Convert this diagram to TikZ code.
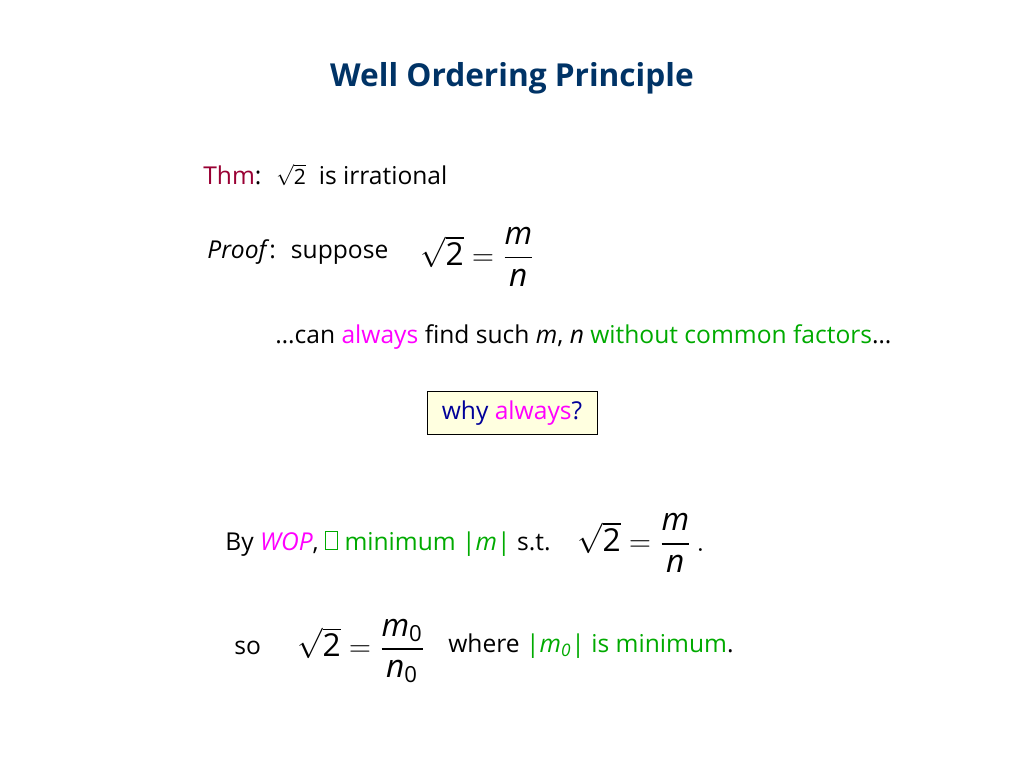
\documentclass[tikz,border=0pt]{standalone}
\usepackage{amsmath}
\usepackage{fontspec}
\setmainfont{Open Sans}
\setsansfont{Open Sans}
\usetikzlibrary{positioning}
\definecolor{titleblue}{HTML}{003366}
\definecolor{thmred}{HTML}{990033}
\definecolor{hotpink}{HTML}{FF00FF}
\definecolor{proofgreen}{HTML}{00AA00}
\definecolor{whyblue}{HTML}{000099}
\definecolor{boxfill}{HTML}{FFFFE0}
\tikzstyle{line} = [anchor=west, inner sep=0pt, font=\fontsize{14}{16}\selectfont]
\tikzstyle{eqn} = [anchor=west, inner sep=0pt, font=\fontsize{18}{21}\selectfont]
\newcommand{\nobox}{\tikz[baseline=-1pt]\draw[line width=0.4pt] (0,0) rectangle (7pt,10pt);}
\newcommand{\tv}[1]{\text{\itshape #1}}
\newcommand{\rtwo}{\sqrt{\text{2}}}
\begin{document}
\begin{tikzpicture}[x=0.02cm, y=-0.02cm]
    % page
    \useasboundingbox (0,0) rectangle (1024,768);
    \node [font=\fontsize{18}{22}\selectfont\bfseries, text=titleblue] (title) at (512,78) {Well Ordering Principle};

    % theorem
    \node [line] (thm) at (203,175) {\textcolor{thmred}{Thm}: \ {\large$\rtwo$}\ \ is irrational};

    % proof start
    \node [line] (proof) at (207,252) {\textit{Proof}: \ suppose};
    \node [eqn] (eqa) at (420,257) {$\rtwo=\dfrac{\tv{m}}{\tv{n}}$};
    \node [line] (always) at (275,337) {\dots can \textcolor{hotpink}{always} find such \textit{m}, \textit{n} \textcolor{proofgreen}{without common factors}\dots};

    % question box
    \node [draw, fill=boxfill, minimum width=170*0.02cm, minimum height=43*0.02cm,
        font=\fontsize{14}{16}\selectfont] (why) at (512,413)
        {\textcolor{whyblue}{why} \textcolor{hotpink}{always}\textcolor{whyblue}{?}};

    % WOP
    \node [line] (wop) at (225,544) {By \textcolor{hotpink}{\textit{WOP}}, \textcolor{proofgreen}{\nobox{} minimum |\textit{m}|} s.t.};
    \node [eqn] (eqb) at (577,543) {$\rtwo=\dfrac{\tv{m}}{\tv{n}}\,.$};

    % conclusion
    \node [line] (so) at (234,648) {so};
    \node [eqn] (eqc) at (297,651) {$\rtwo=\dfrac{\tv{m}_{\text{0}}}{\tv{n}_{\text{0}}}$};
    \node [line] (where) at (448,646) {where \textcolor{proofgreen}{|\textit{m}\textsubscript{\textit{0}}| is minimum}.};
\end{tikzpicture}
\end{document}
